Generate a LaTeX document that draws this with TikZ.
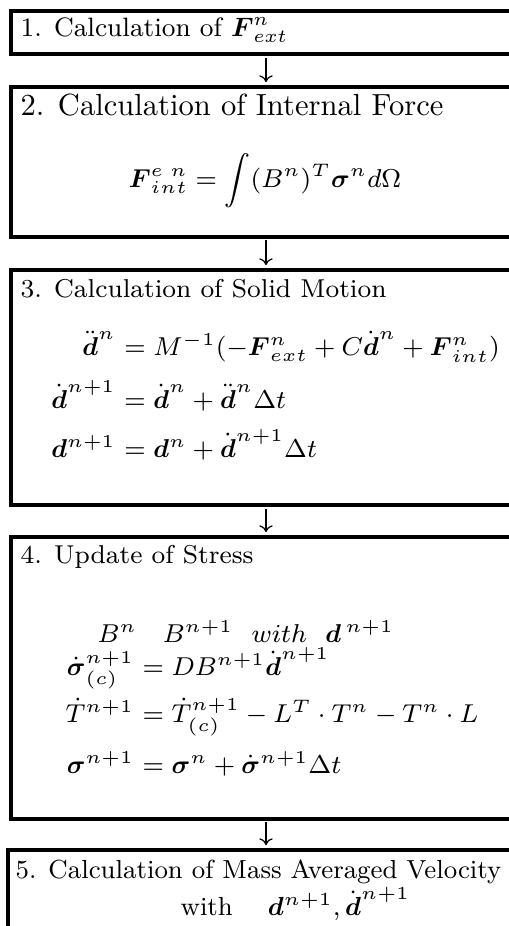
\RequirePackage{fix-cm}
\documentclass[tikz,border=0pt]{standalone}
\usepackage{amsmath}
\usetikzlibrary{arrows.meta}
\newcommand{\smallfs}{\fontsize{8.45}{10.2}\selectfont}
\newcommand{\firstfs}{\fontsize{8.7}{10.5}\selectfont}
\begin{document}
\begin{tikzpicture}[x=0.327pt,y=-0.327pt,
  box/.style={draw, line width=1.3pt, rectangle, outer sep=0pt, inner sep=0pt, minimum width=166.8pt},
  flow/.style={line width=0.4pt, -{To[length=2.2pt,width=4.4pt]}, shorten <=1.3pt, shorten >=1.6pt},
  txt/.style={anchor=base west, inner sep=0pt, font=\smallfs},
  lhs/.style={anchor=base east, inner sep=0pt, font=\smallfs},
  rhs/.style={anchor=base west, inner sep=0pt, font=\smallfs}]
\useasboundingbox (0,0) rectangle (509,926);
\clip (0,0) rectangle (509,926);
% boxes
\node[box, minimum height=14.06pt] (b1) at (266,32.5) {};
\node[box, minimum height=48.89pt] (b2) at (266,161.75) {};
\node[box, minimum height=76.85pt] (b3) at (266,387.5) {};
\node[box, minimum height=92.05pt] (b4) at (266,677.75) {};
\node[box, minimum width=168.7pt, minimum height=36pt] (b5) at (266,905) {};
% connectors
\draw[flow] (b1.south) -- (b2.north);
\draw[flow] (b2.south) -- (b3.north);
\draw[flow] (b3.south) -- (b4.north);
\draw[flow] (b4.south) -- (b5.north);
% box 1
\node[txt, font=\firstfs] (t1) at (20,36) {1. Calculation of $\boldsymbol{F}^n_{ext}$};
% box 2
\node[txt, font=\normalsize] (t2) at (20,115) {2. Calculation of Internal Force};
\node[anchor=base, inner sep=0pt, font=\smallfs] (e2) at (265,187) {$\displaystyle \boldsymbol{F}^{e\;n}_{int} = \int (B^n)^T \boldsymbol{\sigma}^n d\Omega$};
% box 3
\node[txt] (t3) at (20,297) {3. Calculation of Solid Motion};
\node[lhs] (e3al) at (116.1,355) {$\ddot{\boldsymbol{d}}^n$};
\node[rhs] (e3ar) at (116.1,355) {${}= M^{-1}(-\boldsymbol{F}^n_{ext} + C\dot{\boldsymbol{d}}^n + \boldsymbol{F}^n_{int})$};
\node[lhs] (e3bl) at (116.1,408) {$\dot{\boldsymbol{d}}^{n+1}$};
\node[rhs] (e3br) at (116.1,408) {${}= \dot{\boldsymbol{d}}^n + \ddot{\boldsymbol{d}}^n \Delta t$};
\node[lhs] (e3cl) at (116.1,457) {$\boldsymbol{d}^{n+1}$};
\node[rhs] (e3cr) at (116.1,457) {${}= \boldsymbol{d}^n + \dot{\boldsymbol{d}}^{n+1} \Delta t$};
% box 4
\node[txt] (t4) at (20,563) {4. Update of Stress};
\node[txt] (e4a) at (97,642) {$B^n \quad B^{n+1}\ \ with\ \ \boldsymbol{d}^{\,n+1}$};
\node[lhs] (e4bl) at (134.5,675) {$\dot{\boldsymbol{\sigma}}^{n+1}_{(c)}$};
\node[rhs] (e4br) at (134.5,675) {${}= DB^{n+1}\dot{\boldsymbol{d}}^{n+1}$};
\node[lhs] (e4cl) at (134.5,722) {$\dot{T}^{n+1}$};
\node[rhs] (e4cr) at (134.5,722) {${}= \dot{T}^{n+1}_{(c)} - L^T \cdot T^n - T^n \cdot L$};
\node[lhs] (e4dl) at (134.5,773) {$\boldsymbol{\sigma}^{n+1}$};
\node[rhs] (e4dr) at (134.5,773) {${}= \boldsymbol{\sigma}^n + \dot{\boldsymbol{\sigma}}^{n+1} \Delta t$};
% box 5
\node[txt, font=\fontsize{8.55}{10.3}\selectfont] (t5) at (15,878) {5. Calculation of Mass Averaged Velocity};
\node[txt, font=\fontsize{8.55}{10.3}\selectfont] (e5) at (180,915) {with \quad $\boldsymbol{d}^{n+1}, \dot{\boldsymbol{d}}^{n+1}$};
\end{tikzpicture}
\end{document}
